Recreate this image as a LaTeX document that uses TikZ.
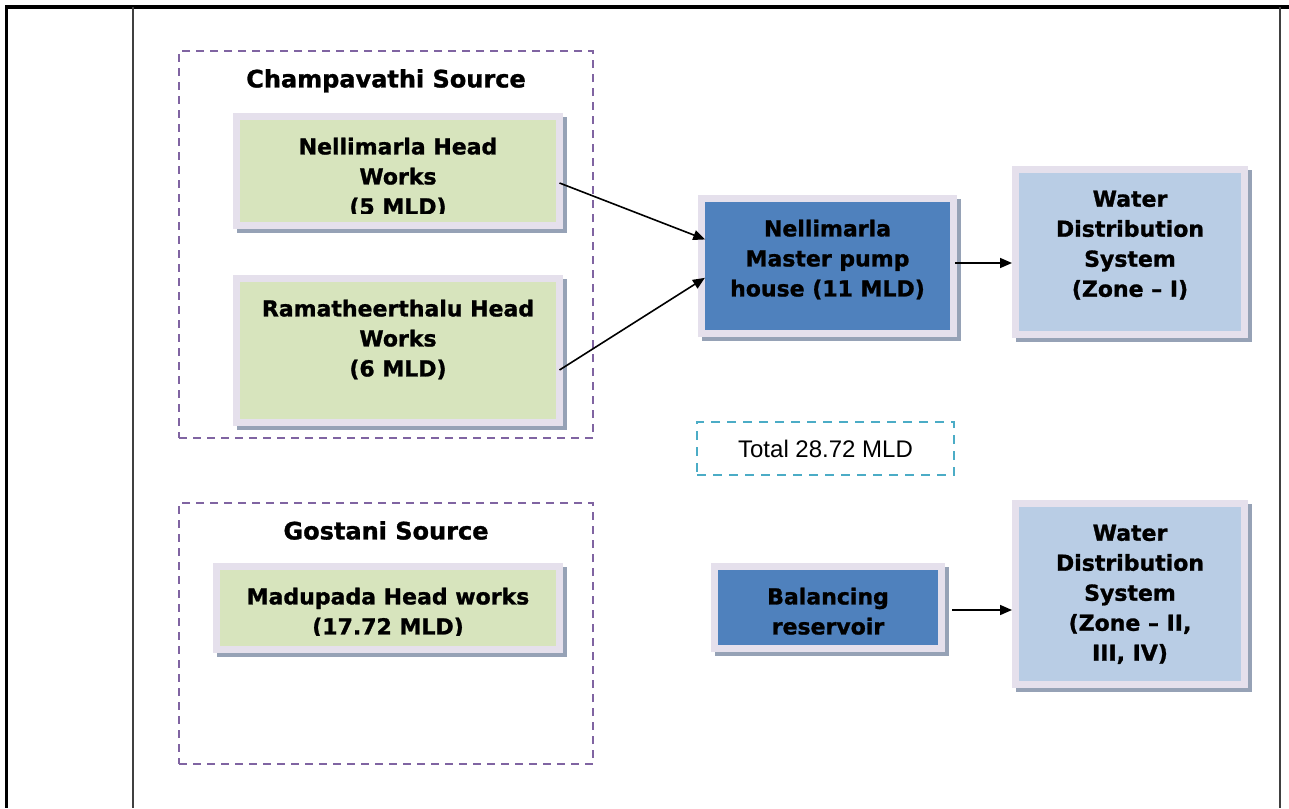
\documentclass[tikz,border=0pt]{standalone}
\usepackage{fontspec}
\setmainfont{DejaVu Sans}[BoldFeatures={FakeBold=1.2}]
\newfontfamily\arialfont{Liberation Sans}
\usepackage{tikz}
\usetikzlibrary{positioning,arrows.meta}
\definecolor{boxrim}{RGB}{229,224,236}
\definecolor{boxshade}{RGB}{150,162,182}
\definecolor{boxgreen}{RGB}{215,228,189}
\definecolor{boxblue}{RGB}{79,129,189}
\definecolor{boxpale}{RGB}{185,205,229}
\definecolor{grouppurple}{RGB}{128,100,162}
\definecolor{totalcyan}{RGB}{75,172,198}

\begin{document}
\begin{tikzpicture}[x=1pt,y=-1pt,
  cardbox/.style={draw=boxrim,line width=7pt,inner sep=0pt,outer sep=0pt,
    preaction={fill=boxshade,draw=boxshade,transform canvas={shift={(3.5pt,-3.5pt)}}}},
  workbox/.style={cardbox,fill=boxgreen},
  pumpbox/.style={cardbox,fill=boxblue},
  zonebox/.style={cardbox,fill=boxpale},
  boxtext/.style={font=\fontsize{22}{30}\selectfont\bfseries,align=center,inner sep=0pt},
  sourcebox/.style={draw=grouppurple,line width=2.4pt,dash pattern=on 8pt off 6pt,inner sep=0pt,outer sep=0pt},
  sourcetitle/.style={font=\fontsize{24}{28}\selectfont\bfseries,inner sep=0pt},
  flow/.style={-{Triangle[length=12pt,width=10pt]},line width=1.6pt}]
\useasboundingbox (0,0) rectangle (1289,808);
% page frame
\draw[line width=4pt] (5,7) -- (1289,7);
\draw[line width=3pt] (6,7) -- (6,808);
\draw[line width=2pt,black!75] (133,7) -- (133,808);
\draw[line width=2.5pt,black!75] (1280,7) -- (1280,808);

% sources
\node[sourcebox,minimum width=414,minimum height=387] (champ) at (386,244.5) {};
\node[sourcetitle,below=18pt of champ.north] (champtitle) {Champavathi Source};
\node[sourcebox,minimum width=414,minimum height=261] (gost) at (386,633.5) {};
\node[sourcetitle,below=18pt of gost.north] (gosttitle) {Gostani Source};

% head works
\node[workbox,minimum width=323,minimum height=109] (nhw) at (398,171) {};
\begin{scope}
\clip ([yshift=-3.5pt]nhw.north west) rectangle ([yshift=12.5pt]nhw.south east);
\node[boxtext,below=21pt of nhw.north] (nhwtext) {Nellimarla Head\\Works\\(5 MLD)};
\end{scope}
\node[workbox,minimum width=323,minimum height=144] (rhw) at (398,350.5) {};
\node[boxtext,below=21pt of rhw.north] (rhwtext) {Ramatheerthalu Head\\Works\\(6 MLD)};
\node[workbox,minimum width=343,minimum height=83] (mhw) at (388,608) {};
\begin{scope}
\clip ([yshift=-3.5pt]mhw.north west) rectangle ([yshift=14.5pt]mhw.south east);
\node[boxtext,below=21pt of mhw.north] (mhwtext) {Madupada Head works\\(17.72 MLD)};
\end{scope}

% pumping and reservoir
\node[pumpbox,minimum width=252,minimum height=135] (mph) at (827.5,266) {};
\node[boxtext,below=21pt of mph.north] (mphtext) {Nellimarla\\Master pump\\house (11 MLD)};
\node[pumpbox,minimum width=227,minimum height=82] (bres) at (828,607.5) {};
\node[boxtext,below=21pt of bres.north] (brestext) {Balancing\\reservoir};

% distribution zones
\node[zonebox,minimum width=229,minimum height=165] (wds1) at (1130,252) {};
\node[boxtext,below=21pt of wds1.north] (wds1text) {Water\\Distribution\\System\\(Zone -- I)};
\node[zonebox,minimum width=229,minimum height=181] (wds2) at (1130,594) {};
\node[boxtext,below=21pt of wds2.north] (wds2text) {Water\\Distribution\\System\\(Zone -- II,\\III, IV)};

\node[draw=totalcyan,line width=2.2pt,dash pattern=on 9pt off 7pt,minimum width=257,minimum height=53,
  inner sep=0pt,font=\arialfont\fontsize{24}{28}\selectfont] (total) at (825.5,448.5) {Total 28.72 MLD};

% flows
\draw[flow,shorten >=-4pt] ([yshift=-12pt]nhw.east) -- ([yshift=28pt]mph.west);
\draw[flow,shorten >=-4pt] ([yshift=-19.5pt]rhw.east) -- ([yshift=-14pt]mph.west);
\coordinate (mphout) at ([xshift=1.5pt,yshift=3pt]mph.east);
\draw[flow] (mphout) -- ([xshift=-3.5pt]mphout -| wds1.west);
\coordinate (bresout) at ([xshift=10.5pt,yshift=-2.5pt]bres.east);
\draw[flow] (bresout) -- ([xshift=-3.5pt]bresout -| wds2.west);
\end{tikzpicture}
\end{document}
